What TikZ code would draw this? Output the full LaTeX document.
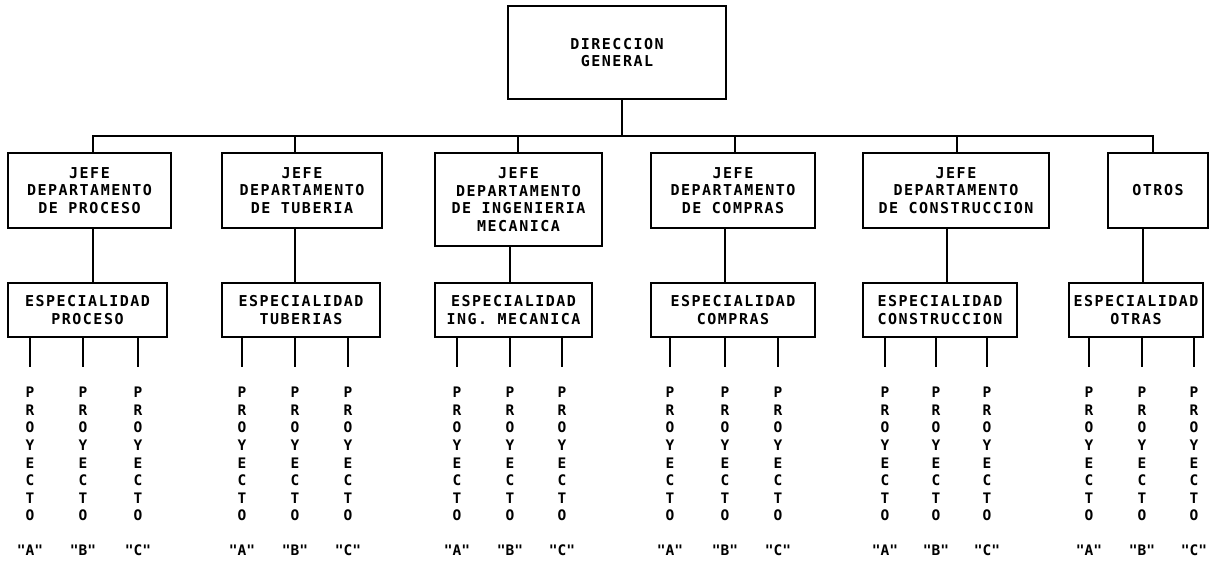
\documentclass[tikz,border=0pt]{standalone}
\usepackage{fontspec}
\newfontfamily\chartfont[LetterSpace=10]{DejaVu Sans Mono}
\newfontfamily\plainmono{DejaVu Sans Mono}
\usetikzlibrary{calc}
\begin{document}
\begin{tikzpicture}[x=1pt,y=-1pt,
  box/.style={draw, line width=1.7pt, align=center, inner sep=0pt,
    font=\chartfont\bfseries\fontsize{15}{17.5}\selectfont},
  link/.style={line width=1.7pt},
  proj/.style={anchor=north, inner sep=0pt, align=center,
    font=\plainmono\bfseries\fontsize{14.5}{17.6}\selectfont},
  tag/.style={inner sep=0pt, font=\plainmono\bfseries\fontsize{14.5}{14.5}\selectfont}]
\useasboundingbox (0,0) rectangle (1219,563);

% general direction
\node[box, minimum width=218pt, minimum height=93pt] (top) at (617,52.5) {DIRECCION\\GENERAL};

% department heads
\node[box, minimum width=163pt, minimum height=75pt] (d1) at (89.5,190.5) {JEFE\\DEPARTAMENTO\\DE PROCESO};
\node[box, minimum width=160pt, minimum height=75pt] (d2) at (302,190.5) {JEFE\\DEPARTAMENTO\\DE TUBERIA};
\node[box, minimum width=167pt, minimum height=93pt] (d3) at (518.5,199.5) {JEFE\\DEPARTAMENTO\\DE INGENIERIA\\MECANICA};
\node[box, minimum width=164pt, minimum height=75pt] (d4) at (733,190.5) {JEFE\\DEPARTAMENTO\\DE COMPRAS};
\node[box, minimum width=186pt, minimum height=75pt] (d5) at (956,190.5) {JEFE\\DEPARTAMENTO\\DE CONSTRUCCION};
\node[box, minimum width=100pt, minimum height=75pt] (d6) at (1158,190.5) {OTROS};

% specialties
\node[box, minimum width=159pt, minimum height=54pt] (s1) at (87.5,310) {ESPECIALIDAD\\PROCESO};
\node[box, minimum width=158pt, minimum height=54pt] (s2) at (301,310) {ESPECIALIDAD\\TUBERIAS};
\node[box, minimum width=157pt, minimum height=54pt] (s3) at (513.5,310) {ESPECIALIDAD\\ING. MECANICA};
\node[box, minimum width=164pt, minimum height=54pt] (s4) at (733,310) {ESPECIALIDAD\\COMPRAS};
\node[box, minimum width=154pt, minimum height=54pt] (s5) at (940,310) {ESPECIALIDAD\\CONSTRUCCION};
\node[box, minimum width=134pt, minimum height=54pt] (s6) at (1136,310) {ESPECIALIDAD\\OTRAS};

% bus joints
\coordinate (tj) at (622,136);
\coordinate (u1) at (93,136);
\coordinate (u2) at (295,136);
\coordinate (u3) at (518,136);
\coordinate (u4) at (735,136);
\coordinate (u5) at (957,136);
\coordinate (u6) at (1153,136);
\draw[link] (tj |- top.south) -- (tj);
\draw[link] (u1 |- d1.north) -- (u1) -- (u6) -- (u6 |- d6.north);
\foreach \i in {2,...,5} {\draw[link] (u\i) -- (u\i |- d\i.north);}

% head to specialty links
\coordinate (v1) at (93,260);
\coordinate (v2) at (295,260);
\coordinate (v3) at (510,260);
\coordinate (v4) at (725,260);
\coordinate (v5) at (947,260);
\coordinate (v6) at (1143,260);
\foreach \i in {1,...,6} {\draw[link] (v\i |- d\i.south) -- (v\i |- s\i.north);}

% projects under each specialty
\foreach \i/\j/\x/\l in {1/a/30/A, 1/b/83/B, 1/c/138/C,
    2/a/242/A, 2/b/295/B, 2/c/348/C,
    3/a/457/A, 3/b/510/B, 3/c/562/C,
    4/a/670/A, 4/b/725/B, 4/c/778/C,
    5/a/885/A, 5/b/936/B, 5/c/987/C,
    6/a/1089/A, 6/b/1142/B, 6/c/1194/C} {
  \coordinate (e\i\j) at (\x,367);
  \draw[link] (e\i\j |- s\i.south) -- (e\i\j);
  \node[proj] (p\i\j) at (\x,387) {P\\R\\O\\Y\\E\\C\\T\\O};
  \node[tag] (q\i\j) at (\x,550) {"\l"};
}
\end{tikzpicture}
\end{document}
